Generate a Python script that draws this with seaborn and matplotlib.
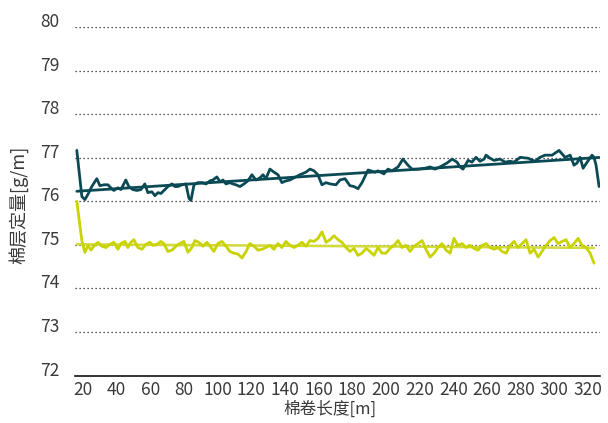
import matplotlib
matplotlib.use("Agg")
import matplotlib.pyplot as plt
import matplotlib.transforms as mtransforms
import numpy as np
import pandas as pd
import seaborn as sns

# Lap length [m] and lap weight [g/m] for the upper (teal) series
teal_length = [16.4, 19.4, 21.2, 23.0, 25.3, 27.1, 28.3, 30.1, 32.5, 34.9, 36.6, 38.4,
               40.8, 42.6, 45.5, 47.3, 49.7, 52.1, 54.5, 56.8, 58.6, 61.0, 62.8, 64.6,
               66.3, 68.7, 70.5, 72.9, 74.7, 76.4, 78.8, 81.2, 83.0, 84.2, 86.0, 88.3,
               90.7, 93.1, 95.5, 97.2, 99.6, 101.4, 103.2, 105.0, 107.3, 109.1, 110.9,
               113.3, 115.7, 118.0, 120.4, 122.8, 125.2, 127.0, 128.7, 131.1, 133.5,
               135.9, 138.2, 140.6, 143.0, 145.4, 148.9, 152.5, 154.9, 157.3, 159.6,
               162.0, 164.4, 166.8, 170.3, 172.7, 175.7, 178.6, 181.0, 183.4, 185.8,
               189.4, 193.5, 195.3, 198.8, 201.2, 203.6, 207.2, 210.1, 213.1, 215.5,
               219.0, 223.2, 226.2, 229.2, 232.1, 236.3, 239.3, 242.2, 244.0, 245.8,
               248.8, 251.1, 253.5, 255.9, 258.3, 259.5, 261.8, 264.2, 267.8, 270.8,
               273.7, 276.1, 279.7, 284.4, 288.6, 291.5, 294.5, 298.7, 302.8, 306.4,
               309.4, 311.7, 313.5, 315.3, 317.1, 319.5, 322.4, 323.6, 324.8, 326.6]
teal_weight = [77.17, 76.11, 76.04, 76.16, 76.34, 76.45, 76.52, 76.36, 76.38, 76.38, 76.31, 76.25,
               76.31, 76.27, 76.49, 76.34, 76.27, 76.25, 76.27, 76.40, 76.20, 76.22, 76.13, 76.20,
               76.18, 76.27, 76.34, 76.40, 76.34, 76.34, 76.38, 76.40, 76.07, 76.02, 76.38, 76.43,
               76.43, 76.40, 76.47, 76.49, 76.56, 76.45, 76.49, 76.40, 76.43, 76.40, 76.38,
               76.34, 76.40, 76.47, 76.61, 76.49, 76.54, 76.61, 76.52, 76.74, 76.67,
               76.61, 76.43, 76.47, 76.49, 76.54, 76.61, 76.67, 76.74, 76.70, 76.61,
               76.38, 76.43, 76.40, 76.38, 76.49, 76.52, 76.36, 76.34, 76.29, 76.43,
               76.72, 76.67, 76.70, 76.63, 76.74, 76.70, 76.79, 76.97, 76.83, 76.74,
               76.74, 76.76, 76.79, 76.74, 76.79, 76.88, 76.97, 76.90, 76.79, 76.74,
               76.94, 76.90, 77.01, 76.92, 76.97, 77.06, 76.99, 76.94, 76.97, 76.90,
               76.92, 76.90, 77.01, 76.99, 76.92, 77.01, 77.06, 77.06, 77.17, 77.01,
               77.06, 76.83, 76.88, 77.01, 76.76, 76.90, 77.06, 77.01, 76.83, 76.34]

# Lap length [m] and lap weight [g/m] for the lower (lime) series
lime_length = [16.4, 19.4, 21.2, 23.0, 24.8, 26.5, 28.9, 31.3, 33.7, 36.0, 38.4, 40.8,
               42.6, 45.0, 46.7, 48.5, 50.3, 52.7, 55.1, 57.4, 59.8, 61.6, 64.0, 66.3,
               68.1, 70.5, 72.9, 75.3, 77.6, 80.0, 82.4, 84.8, 86.5, 88.9, 91.3, 93.7,
               96.1, 97.8, 100.2, 102.6, 105.0, 107.3, 109.7, 112.1, 114.5, 116.9, 119.2,
               121.6, 124.0, 126.4, 128.7, 131.1, 133.5, 135.9, 138.2, 140.6, 143.0,
               145.4, 147.7, 150.1, 152.5, 154.9, 157.3, 159.6, 162.0, 164.4, 166.8,
               169.1, 171.5, 173.9, 176.3, 178.6, 181.0, 183.4, 185.8, 188.2, 190.5,
               192.9, 195.3, 197.7, 200.0, 202.4, 204.8, 207.2, 209.5, 211.9, 214.3,
               216.7, 219.0, 221.4, 223.8, 226.2, 228.6, 230.9, 233.3, 235.7, 238.1,
               240.4, 242.8, 245.2, 247.6, 249.9, 252.3, 254.7, 257.1, 259.5, 261.8,
               264.2, 266.6, 269.0, 271.4, 273.7, 276.1, 278.5, 280.8, 283.2, 285.6,
               288.0, 290.4, 292.7, 295.1, 297.5, 299.9, 302.2, 304.6, 307.0, 309.4,
               311.7, 314.1, 316.5, 318.9, 321.3, 323.6]
lime_weight = [76.00, 75.10, 74.83, 74.99, 74.88, 74.97, 75.06, 74.97, 74.94, 75.01, 75.06, 74.90,
               75.03, 75.08, 74.94, 75.06, 75.12, 74.94, 74.90, 75.01, 75.06, 74.99, 75.01, 75.08,
               75.03, 74.85, 74.88, 74.97, 75.03, 75.08, 74.83, 74.94, 75.10, 75.06, 74.97, 75.06,
               74.94, 74.85, 75.03, 75.08, 74.97, 74.85, 74.81, 74.79, 74.70, 74.85, 75.03,
               74.97, 74.88, 74.90, 74.94, 74.99, 74.90, 75.03, 74.94, 75.08, 74.99,
               74.94, 74.99, 75.06, 74.97, 75.10, 75.08, 75.15, 75.30, 75.06, 75.12,
               75.21, 75.12, 75.06, 74.94, 74.85, 74.92, 74.76, 74.81, 74.92, 74.85,
               74.76, 74.94, 74.81, 74.81, 74.92, 74.99, 75.10, 74.94, 74.99, 74.85,
               74.97, 75.03, 75.10, 74.90, 74.72, 74.81, 74.94, 75.03, 74.88, 74.81,
               75.15, 74.99, 75.03, 74.94, 74.99, 74.92, 74.88, 74.99, 75.03, 74.94,
               74.90, 74.94, 74.85, 74.81, 74.99, 75.08, 74.94, 75.03, 75.12, 74.81,
               74.90, 74.72, 74.85, 74.99, 75.10, 75.17, 75.03, 75.08, 75.12, 74.94,
               75.03, 75.15, 74.99, 74.94, 74.81, 74.58]

x_ticks = [20, 40, 60, 80, 100, 120, 140, 160, 180, 200, 220, 240, 260, 280, 300, 320]
y_ticks = [72, 73, 74, 75, 76, 77, 78, 79, 80]

x_label = "棉卷长度[m]"
y_label = "棉层定量[g/m]"

TEAL = "#0b4a55"
LIME = "#c9d300"
LIME_FIT = "#d2da3c"
TEXT = "#3a3a3a"

sns.set_theme(style="white")
plt.rcParams["font.family"] = ["Noto Sans CJK SC", "DejaVu Sans"]

teal = pd.DataFrame({"length": teal_length, "weight": teal_weight})
lime = pd.DataFrame({"length": lime_length, "weight": lime_weight})

fig = plt.figure(figsize=(6.08, 4.23), dpi=100)
ax = fig.add_axes([0.123, 0.112, 0.864, 0.824])

# dotted horizontal guides
for yv in y_ticks[1:]:
    ax.axhline(yv, color="#222222", lw=0.9, ls=(0, (1, 2.2)), zorder=0)

sns.lineplot(data=teal, x="length", y="weight", ax=ax, color=TEAL, lw=2.0, zorder=3)
sns.lineplot(data=lime, x="length", y="weight", ax=ax, color=LIME, lw=2.0, zorder=3)

# linear trend of each series
sns.regplot(data=teal, x="length", y="weight", ax=ax, scatter=False, ci=None,
            truncate=True, line_kws={"color": TEAL, "lw": 2.0, "zorder": 4})
sns.regplot(data=lime, x="length", y="weight", ax=ax, scatter=False, ci=None,
            truncate=True, line_kws={"color": LIME_FIT, "lw": 1.8, "zorder": 2})

ax.set_xlim(15.2, 327.2)
ax.set_ylim(72, 80)
ax.set_xticks(x_ticks)
ax.set_yticks(y_ticks)
ax.tick_params(axis="both", length=0, labelsize=12.5, labelcolor=TEXT)
ax.tick_params(axis="x", pad=4)
ax.tick_params(axis="y", pad=11)

# y tick labels sit just above their guide lines
shift = mtransforms.ScaledTranslation(0, 7 / 100, fig.dpi_scale_trans)
for lbl in ax.get_yticklabels():
    lbl.set_transform(lbl.get_transform() + shift)

ax.set_xlabel(x_label, fontsize=12, color=TEXT)
ax.xaxis.set_label_coords(0.485, -0.072)
ax.set_ylabel(y_label, fontsize=13, color=TEXT)
ax.yaxis.set_label_coords(-0.088, 0.49)

for side in ["top", "right", "left"]:
    ax.spines[side].set_visible(False)
ax.spines["bottom"].set_color("#111111")
ax.spines["bottom"].set_linewidth(1.2)
ax.grid(False)

fig.savefig("out.png", dpi=100)
